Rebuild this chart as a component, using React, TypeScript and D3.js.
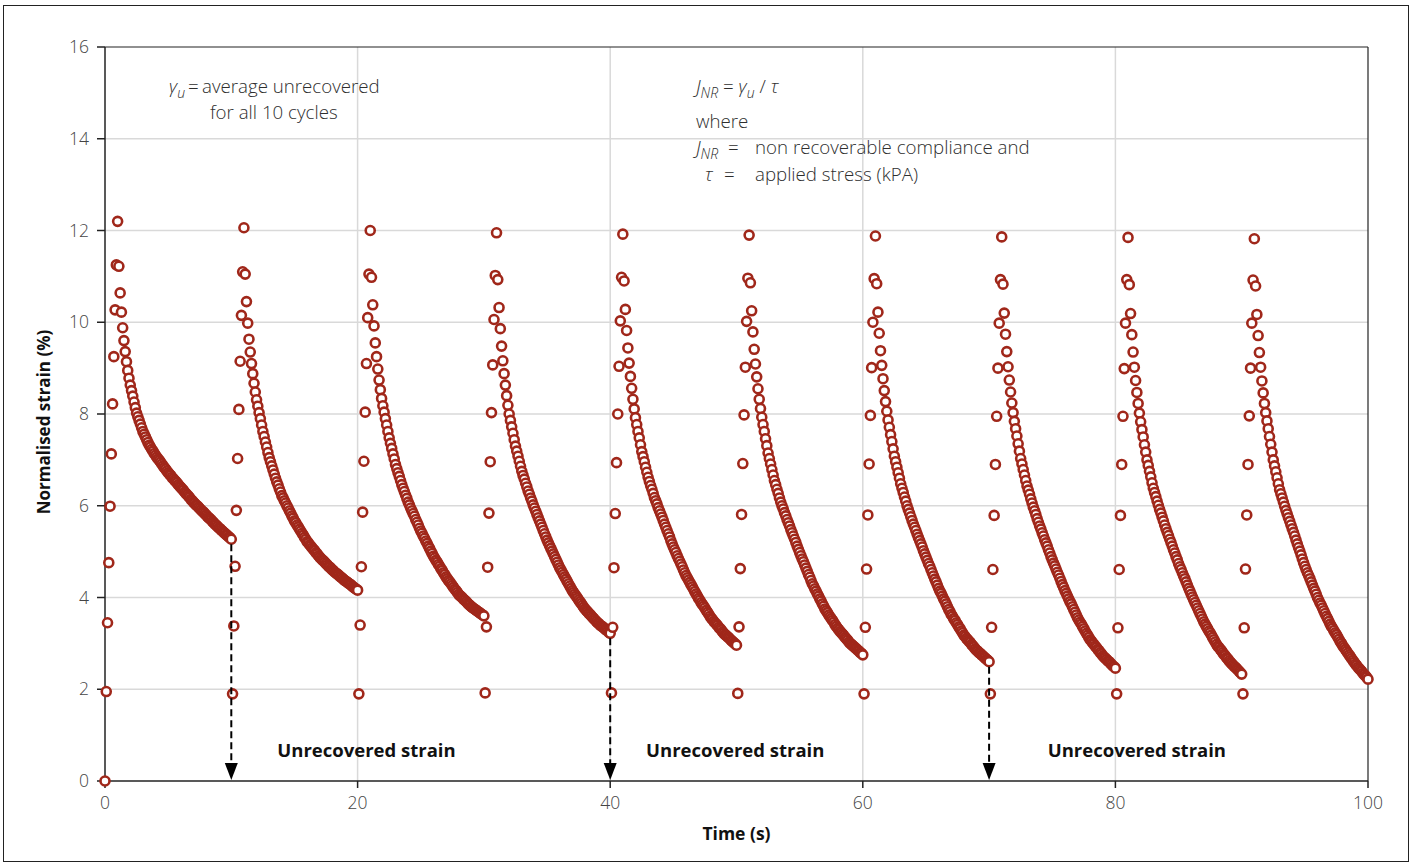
import * as d3 from "d3";
import React from "react";

// Normalised strain (%) per cycle, sampled every 0.1 s.
// Each cycle: 10 loading samples (last one = peak at 1 s), then 90 recovery samples.
const initialStrain = 0;

const cycle1 = [
  1.95, 3.45, 4.76, 5.99, 7.13, 8.22, 9.25, 10.27, 11.25, 12.2,
  11.22, 10.64, 10.22, 9.88, 9.6, 9.36, 9.14, 8.95, 8.78, 8.63,
  8.51, 8.39, 8.26, 8.14, 8.02, 7.94, 7.86, 7.78, 7.7, 7.62,
  7.56, 7.5, 7.44, 7.38, 7.32, 7.28, 7.23, 7.19, 7.14, 7.1,
  7.06, 7.02, 6.99, 6.95, 6.91, 6.87, 6.83, 6.8, 6.76, 6.72,
  6.69, 6.66, 6.62, 6.59, 6.56, 6.53, 6.5, 6.46, 6.43, 6.4,
  6.37, 6.34, 6.3, 6.27, 6.24, 6.21, 6.18, 6.14, 6.11, 6.08,
  6.05, 6.02, 6.0, 5.97, 5.94, 5.91, 5.88, 5.86, 5.83, 5.8,
  5.77, 5.74, 5.72, 5.69, 5.66, 5.63, 5.6, 5.58, 5.55, 5.52,
  5.5, 5.47, 5.45, 5.42, 5.4, 5.37, 5.35, 5.32, 5.3, 5.27,
];

const cycle2 = [
  1.9, 3.38, 4.68, 5.9, 7.03, 8.1, 9.15, 10.15, 11.1, 12.06,
  11.05, 10.45, 9.98, 9.63, 9.35, 9.1, 8.88, 8.67, 8.48, 8.31,
  8.17, 8.03, 7.9, 7.76, 7.62, 7.51, 7.39, 7.28, 7.16, 7.05,
  6.96, 6.87, 6.78, 6.69, 6.6, 6.52, 6.45, 6.37, 6.3, 6.22,
  6.17, 6.11, 6.06, 6.0, 5.95, 5.89, 5.84, 5.78, 5.73, 5.67,
  5.63, 5.58, 5.54, 5.49, 5.45, 5.4, 5.36, 5.31, 5.27, 5.22,
  5.19, 5.15, 5.12, 5.08, 5.05, 5.02, 4.98, 4.95, 4.91, 4.88,
  4.85, 4.82, 4.8, 4.77, 4.74, 4.71, 4.68, 4.66, 4.63, 4.6,
  4.58, 4.55, 4.53, 4.51, 4.49, 4.46, 4.44, 4.42, 4.39, 4.37,
  4.35, 4.33, 4.31, 4.29, 4.27, 4.24, 4.22, 4.2, 4.18, 4.16,
];

const cycle3 = [
  1.9, 3.4, 4.67, 5.86, 6.97, 8.04, 9.1, 10.1, 11.05, 12.0,
  10.98, 10.38, 9.92, 9.55, 9.25, 8.98, 8.74, 8.53, 8.34, 8.18,
  8.04, 7.9, 7.76, 7.62, 7.48, 7.36, 7.25, 7.13, 7.02, 6.9,
  6.81, 6.72, 6.64, 6.55, 6.46, 6.38, 6.31, 6.23, 6.16, 6.08,
  6.02, 5.95, 5.89, 5.83, 5.77, 5.7, 5.64, 5.58, 5.51, 5.45,
  5.4, 5.34, 5.29, 5.23, 5.18, 5.12, 5.07, 5.01, 4.96, 4.9,
  4.86, 4.81, 4.77, 4.72, 4.68, 4.63, 4.59, 4.54, 4.5, 4.45,
  4.41, 4.37, 4.34, 4.3, 4.26, 4.22, 4.18, 4.15, 4.11, 4.07,
  4.04, 4.02, 3.99, 3.96, 3.94, 3.91, 3.88, 3.85, 3.83, 3.8,
  3.78, 3.76, 3.74, 3.72, 3.7, 3.68, 3.66, 3.64, 3.62, 3.6,
];

const cycle4 = [
  1.92, 3.36, 4.66, 5.84, 6.96, 8.03, 9.07, 10.06, 11.02, 11.95,
  10.93, 10.32, 9.86, 9.48, 9.16, 8.88, 8.63, 8.4, 8.19, 8.0,
  7.86, 7.72, 7.58, 7.44, 7.3, 7.19, 7.08, 6.97, 6.86, 6.75,
  6.66, 6.58, 6.49, 6.41, 6.32, 6.25, 6.17, 6.1, 6.02, 5.95,
  5.88, 5.81, 5.74, 5.67, 5.6, 5.53, 5.46, 5.39, 5.32, 5.25,
  5.19, 5.13, 5.07, 5.01, 4.95, 4.89, 4.83, 4.77, 4.71, 4.65,
  4.6, 4.55, 4.5, 4.45, 4.4, 4.35, 4.3, 4.25, 4.2, 4.15,
  4.11, 4.07, 4.03, 3.99, 3.95, 3.91, 3.87, 3.83, 3.79, 3.75,
  3.72, 3.69, 3.66, 3.63, 3.6, 3.57, 3.54, 3.51, 3.48, 3.45,
  3.43, 3.4, 3.38, 3.36, 3.34, 3.31, 3.29, 3.27, 3.24, 3.22,
];

const cycle5 = [
  1.92, 3.35, 4.65, 5.83, 6.94, 8.0, 9.04, 10.03, 10.98, 11.92,
  10.9, 10.28, 9.82, 9.44, 9.11, 8.82, 8.56, 8.32, 8.11, 7.92,
  7.77, 7.62, 7.48, 7.33, 7.18, 7.07, 6.96, 6.84, 6.73, 6.62,
  6.53, 6.44, 6.36, 6.27, 6.18, 6.11, 6.04, 5.96, 5.89, 5.82,
  5.75, 5.68, 5.6, 5.53, 5.46, 5.39, 5.32, 5.24, 5.17, 5.1,
  5.04, 4.98, 4.91, 4.85, 4.79, 4.73, 4.67, 4.6, 4.54, 4.48,
  4.43, 4.38, 4.33, 4.28, 4.23, 4.18, 4.13, 4.08, 4.03, 3.98,
  3.94, 3.89, 3.85, 3.81, 3.77, 3.72, 3.68, 3.64, 3.59, 3.55,
  3.52, 3.48, 3.45, 3.42, 3.39, 3.35, 3.32, 3.29, 3.25, 3.22,
  3.19, 3.17, 3.14, 3.12, 3.09, 3.06, 3.04, 3.01, 2.99, 2.96,
];

const cycle6 = [
  1.91, 3.36, 4.63, 5.81, 6.92, 7.98, 9.02, 10.02, 10.96, 11.9,
  10.86, 10.25, 9.79, 9.41, 9.09, 8.81, 8.55, 8.32, 8.12, 7.93,
  7.77, 7.62, 7.46, 7.31, 7.15, 7.03, 6.91, 6.79, 6.67, 6.55,
  6.46, 6.36, 6.27, 6.17, 6.08, 6.0, 5.93, 5.85, 5.78, 5.7,
  5.63, 5.56, 5.48, 5.41, 5.34, 5.27, 5.2, 5.12, 5.05, 4.98,
  4.91, 4.84, 4.78, 4.71, 4.64, 4.57, 4.5, 4.44, 4.37, 4.3,
  4.25, 4.19, 4.14, 4.08, 4.03, 3.97, 3.92, 3.86, 3.81, 3.75,
  3.71, 3.67, 3.62, 3.58, 3.54, 3.5, 3.46, 3.41, 3.37, 3.33,
  3.3, 3.26, 3.23, 3.2, 3.17, 3.13, 3.1, 3.07, 3.03, 3.0,
  2.98, 2.95, 2.93, 2.9, 2.88, 2.85, 2.83, 2.8, 2.78, 2.75,
];

const cycle7 = [
  1.9, 3.35, 4.62, 5.8, 6.91, 7.97, 9.01, 10.0, 10.95, 11.88,
  10.84, 10.22, 9.76, 9.38, 9.06, 8.77, 8.51, 8.27, 8.06, 7.87,
  7.71, 7.55, 7.4, 7.24, 7.08, 6.96, 6.84, 6.72, 6.6, 6.48,
  6.38, 6.29, 6.19, 6.1, 6.0, 5.92, 5.84, 5.76, 5.68, 5.6,
  5.53, 5.46, 5.38, 5.31, 5.24, 5.17, 5.1, 5.02, 4.95, 4.88,
  4.81, 4.74, 4.68, 4.61, 4.54, 4.47, 4.4, 4.34, 4.27, 4.2,
  4.14, 4.09, 4.03, 3.97, 3.92, 3.86, 3.8, 3.74, 3.69, 3.63,
  3.59, 3.54, 3.5, 3.45, 3.41, 3.36, 3.32, 3.27, 3.23, 3.18,
  3.15, 3.11, 3.08, 3.05, 3.02, 2.98, 2.95, 2.92, 2.88, 2.85,
  2.83, 2.8, 2.78, 2.75, 2.73, 2.7, 2.68, 2.65, 2.63, 2.6,
];

const cycle8 = [
  1.9, 3.35, 4.61, 5.79, 6.9, 7.95, 9.0, 9.98, 10.93, 11.86,
  10.83, 10.2, 9.74, 9.36, 9.03, 8.74, 8.48, 8.24, 8.03, 7.84,
  7.68, 7.52, 7.35, 7.19, 7.03, 6.91, 6.79, 6.67, 6.55, 6.43,
  6.34, 6.25, 6.15, 6.06, 5.97, 5.89, 5.81, 5.72, 5.64, 5.56,
  5.49, 5.41, 5.34, 5.26, 5.19, 5.12, 5.04, 4.97, 4.89, 4.82,
  4.75, 4.69, 4.62, 4.55, 4.49, 4.42, 4.35, 4.28, 4.22, 4.15,
  4.09, 4.03, 3.97, 3.91, 3.86, 3.8, 3.74, 3.68, 3.62, 3.56,
  3.51, 3.46, 3.42, 3.37, 3.32, 3.27, 3.22, 3.18, 3.13, 3.08,
  3.05, 3.01, 2.98, 2.94, 2.91, 2.87, 2.84, 2.8, 2.77, 2.73,
  2.7, 2.68, 2.65, 2.62, 2.6, 2.57, 2.54, 2.51, 2.49, 2.46,
];

const cycle9 = [
  1.9, 3.34, 4.61, 5.79, 6.9, 7.95, 8.99, 9.98, 10.93, 11.85,
  10.82, 10.19, 9.73, 9.35, 9.02, 8.73, 8.47, 8.23, 8.02, 7.83,
  7.66, 7.5, 7.33, 7.17, 7.0, 6.88, 6.75, 6.63, 6.5, 6.38,
  6.29, 6.2, 6.1, 6.01, 5.92, 5.84, 5.75, 5.67, 5.58, 5.5,
  5.42, 5.35, 5.27, 5.2, 5.12, 5.04, 4.97, 4.89, 4.82, 4.74,
  4.67, 4.61, 4.54, 4.47, 4.41, 4.34, 4.27, 4.2, 4.14, 4.07,
  4.01, 3.95, 3.89, 3.83, 3.77, 3.71, 3.65, 3.59, 3.53, 3.47,
  3.42, 3.37, 3.32, 3.27, 3.23, 3.18, 3.13, 3.08, 3.03, 2.98,
  2.94, 2.91, 2.87, 2.84, 2.8, 2.76, 2.73, 2.69, 2.66, 2.62,
  2.59, 2.56, 2.53, 2.5, 2.48, 2.45, 2.42, 2.39, 2.36, 2.33,
];

const cycle10 = [
  1.9, 3.34, 4.62, 5.8, 6.9, 7.96, 9.0, 9.98, 10.92, 11.82,
  10.79, 10.17, 9.71, 9.34, 9.02, 8.72, 8.46, 8.23, 8.03, 7.85,
  7.68, 7.51, 7.34, 7.17, 7.0, 6.87, 6.74, 6.61, 6.48, 6.35,
  6.26, 6.17, 6.08, 5.99, 5.9, 5.82, 5.74, 5.66, 5.58, 5.5,
  5.42, 5.34, 5.25, 5.17, 5.09, 5.01, 4.93, 4.84, 4.76, 4.68,
  4.61, 4.54, 4.48, 4.41, 4.34, 4.27, 4.2, 4.14, 4.07, 4.0,
  3.94, 3.88, 3.83, 3.77, 3.71, 3.65, 3.59, 3.54, 3.48, 3.42,
  3.37, 3.33, 3.28, 3.23, 3.19, 3.14, 3.09, 3.04, 3.0, 2.95,
  2.91, 2.87, 2.83, 2.79, 2.75, 2.71, 2.67, 2.63, 2.59, 2.55,
  2.52, 2.48, 2.45, 2.42, 2.39, 2.35, 2.32, 2.29, 2.26, 2.22,
];

const cycles = [cycle1, cycle2, cycle3, cycle4, cycle5, cycle6, cycle7, cycle8, cycle9, cycle10];
const cycleLength = 10; // s
const sampleStep = 0.1; // s

const xTicks = [0, 20, 40, 60, 80, 100];
const yTicks = [0, 2, 4, 6, 8, 10, 12, 14, 16];

// end-of-cycle times marked with the "unrecovered strain" arrows
const arrowTimes = [10, 40, 70];
const unrecoveredLabel = "Unrecovered strain";
const labelTimes = [20.7, 49.9, 81.7];

const W = 1413;
const H = 867;
const margin = { top: 47, right: 45, bottom: 86, left: 105 };
const RED = "#a0271a";
const TEXT = "#2e2e2e";
const FONT = "'Open Sans', 'Noto Sans', sans-serif";

export default function App() {
  const x = d3.scaleLinear().domain([0, 100]).range([margin.left, W - margin.right]);
  const y = d3.scaleLinear().domain([0, 16]).range([H - margin.bottom, margin.top]);

  // build points: (time, strain)
  const points: { t: number; v: number }[] = [{ t: 0, v: initialStrain }];
  cycles.forEach((vals, c) => {
    vals.forEach((v, i) => {
      const t = Math.round((c * cycleLength + (i + 1) * sampleStep) * 10) / 10;
      points.push({ t, v });
    });
  });
  const strainAt = (t: number) => {
    const p = points.find((d) => Math.abs(d.t - t) < 1e-6);
    return p ? p.v : 0;
  };

  const [x0, x1] = x.range();
  const [y0, y1] = y.range();

  return (
    <svg
      width={W}
      height={H}
      style={{ position: "absolute", left: 0, top: 0, background: "#fff" }}
      fontFamily={FONT}
    >
      {/* outer frame */}
      <rect x={3.5} y={5.5} width={1405} height={856} fill="none" stroke="#222" strokeWidth={1} />

      {/* grid */}
      {yTicks.slice(1, -1).map((t) => (
        <line key={"gy" + t} x1={x0} x2={x1} y1={y(t)} y2={y(t)} stroke="#d9d9d9" strokeWidth={1.5} />
      ))}
      {xTicks.slice(1, -1).map((t) => (
        <line key={"gx" + t} x1={x(t)} x2={x(t)} y1={y0} y2={y1} stroke="#d9d9d9" strokeWidth={1.5} />
      ))}

      {/* plot border top / right */}
      <line x1={x0} x2={x1} y1={y1} y2={y1} stroke="#222" strokeWidth={1.2} />
      <line x1={x1} x2={x1} y1={y1} y2={y0} stroke="#222" strokeWidth={1.2} />

      {/* axes */}
      <line x1={x0} x2={x0} y1={y0} y2={y1} stroke="#222" strokeWidth={1.5} />
      <line x1={x0} x2={x1} y1={y0} y2={y0} stroke="#222" strokeWidth={1.5} />
      {yTicks.map((t) => (
        <g key={"ty" + t}>
          <line x1={x0 - 8} x2={x0} y1={y(t)} y2={y(t)} stroke="#222" strokeWidth={1.5} />
          <text x={x0 - 16} y={y(t) + 6} textAnchor="end" fontSize={17.5} fill="#444" fontWeight={300}>
            {t}
          </text>
        </g>
      ))}
      {xTicks.map((t) => (
        <g key={"tx" + t}>
          <line x1={x(t)} x2={x(t)} y1={y0} y2={y0 + 7} stroke="#222" strokeWidth={1.5} />
          <text x={x(t)} y={y0 + 28} textAnchor="middle" fontSize={17.5} fill="#444" fontWeight={300}>
            {t}
          </text>
        </g>
      ))}

      {/* axis titles */}
      <text
        transform={`translate(50,${(y0 + y1) / 2 + 8}) rotate(-90)`}
        textAnchor="middle"
        fontSize={17}
        fontWeight={700}
        fill="#111"
      >
        Normalised strain (%)
      </text>
      <text x={(x0 + x1) / 2} y={840} textAnchor="middle" fontSize={17.5} fontWeight={700} fill="#111">
        Time (s)
      </text>

      {/* data points */}
      {points.map((p, i) => (
        <circle key={i} cx={x(p.t)} cy={y(p.v)} r={4.5} fill="#fff" stroke={RED} strokeWidth={2.6} />
      ))}

      {/* unrecovered strain arrows */}
      {arrowTimes.map((t) => {
        const ax = x(t);
        const top = y(strainAt(t)) + 5;
        const tip = y(0) - 1;
        return (
          <g key={"ar" + t}>
            <line x1={ax} x2={ax} y1={top} y2={tip - 15} stroke="#000" strokeWidth={2} strokeDasharray="7,4" />
            <path d={`M${ax - 6.5},${tip - 17}L${ax + 6.5},${tip - 17}L${ax},${tip}Z`} fill="#000" />
          </g>
        );
      })}
      {labelTimes.map((t) => (
        <text key={"ul" + t} x={x(t)} y={757} textAnchor="middle" fontSize={18.5} fontWeight={700} fill="#111">
          {unrecoveredLabel}
        </text>
      ))}

      {/* annotations */}
      <g fontSize={18.7} fill={TEXT} fontWeight={300}>
        <text x={169} y={93}>
          <tspan fontStyle="italic">γ</tspan>
          <tspan fontStyle="italic" fontSize={14} dy={5}>u</tspan>
        </text>
        <text x={188} y={93}>=</text>
        <text x={202} y={93}>average unrecovered</text>
        <text x={210} y={119}>for all 10 cycles</text>

        <text x={696} y={93}>
          <tspan fontStyle="italic">J</tspan>
          <tspan fontStyle="italic" fontSize={14} dy={5}>NR</tspan>
          <tspan dy={-5}> = </tspan>
          <tspan fontStyle="italic">γ</tspan>
          <tspan fontStyle="italic" fontSize={14} dy={5}>u</tspan>
          <tspan dy={-5}> / </tspan>
          <tspan fontStyle="italic">τ</tspan>
        </text>
        <text x={696} y={128}>where</text>
        <text x={696} y={154}>
          <tspan fontStyle="italic">J</tspan>
          <tspan fontStyle="italic" fontSize={14} dy={5}>NR</tspan>
        </text>
        <text x={728} y={154}>=</text>
        <text x={755} y={154}>non recoverable compliance and</text>
        <text x={705} y={181} fontStyle="italic">τ</text>
        <text x={724} y={181}>=</text>
        <text x={755} y={181}>applied stress (kPA)</text>
      </g>
    </svg>
  );
}
